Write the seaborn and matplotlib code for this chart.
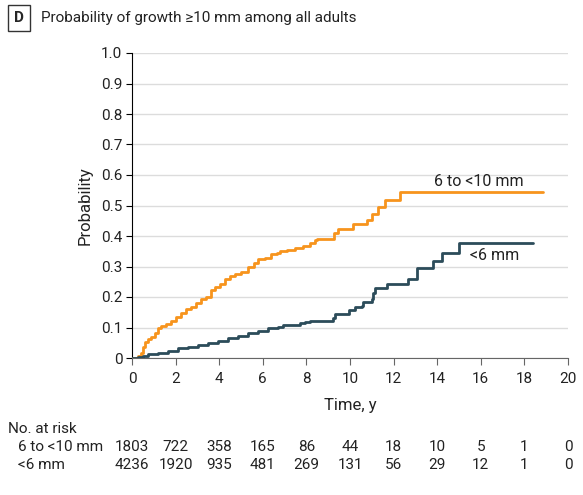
import numpy as np
import pandas as pd
import matplotlib
matplotlib.use("Agg")
import matplotlib.pyplot as plt
import matplotlib.transforms as mtransforms
import seaborn as sns

# step points (time in years, cumulative probability)
t_mid = [0, 0.28, 0.43, 0.5, 0.61, 0.73, 0.89, 1.04, 1.19, 1.35, 1.57, 1.8, 2.03, 2.26,
         2.49, 2.72, 2.95, 3.18, 3.41, 3.61, 3.79, 4.02, 4.25, 4.48, 4.71, 5.02, 5.32,
         5.6, 5.78, 6.09, 6.39, 6.64, 6.79, 7.1, 7.48, 7.86, 8.17, 8.39, 8.47, 9.28,
         9.46, 10.15, 10.76, 11.02, 11.3, 11.6, 12.29, 18.84]
p_mid = [0, 0.007, 0.017, 0.037, 0.053, 0.061, 0.068, 0.083, 0.097, 0.105, 0.11, 0.122,
         0.133, 0.146, 0.16, 0.168, 0.181, 0.193, 0.201, 0.223, 0.232, 0.242, 0.258,
         0.269, 0.275, 0.283, 0.297, 0.31, 0.324, 0.327, 0.341, 0.345, 0.351, 0.354,
         0.36, 0.367, 0.376, 0.387, 0.391, 0.409, 0.422, 0.438, 0.452, 0.472, 0.494,
         0.518, 0.545, 0.545]

t_small = [0, 0.28, 0.5, 0.73, 1.19, 1.65, 2.11, 2.57, 3.03, 3.49, 3.94, 4.4, 4.86,
           5.32, 5.78, 6.24, 6.7, 6.93, 7.71, 7.94, 8.17, 9.23, 9.31, 9.95, 10.23, 10.54,
           10.61, 11.0, 11.04, 11.15, 11.68, 12.65, 13.06, 13.83, 14.2, 15.0, 18.38]
p_small = [0, 0.002, 0.007, 0.013, 0.017, 0.024, 0.032, 0.037, 0.043, 0.05, 0.057,
           0.065, 0.072, 0.081, 0.09, 0.097, 0.103, 0.108, 0.114, 0.118, 0.122, 0.13,
           0.143, 0.157, 0.166, 0.17, 0.184, 0.192, 0.212, 0.228, 0.242, 0.258, 0.294,
           0.318, 0.343, 0.378, 0.378]

risk_times = [0, 2, 4, 6, 8, 10, 12, 14, 16, 18, 20]
risk_mid = [1803, 722, 358, 165, 86, 44, 18, 10, 5, 1, 0]
risk_small = [4236, 1920, 935, 481, 269, 131, 56, 29, 12, 1, 0]

orange = "#F7941D"
navy = "#2C4C5A"
txt = "#222222"

sns.set_style("white")
plt.rcParams["font.family"] = ["Roboto", "DejaVu Sans"]

df = pd.concat([
    pd.DataFrame({"t": t_mid, "p": p_mid, "grp": "6 to <10 mm"}),
    pd.DataFrame({"t": t_small, "p": p_small, "grp": "<6 mm"}),
])

fig = plt.figure(figsize=(5.83, 4.95), dpi=100)
ax = fig.add_axes([132 / 583, 137 / 495, 436 / 583, 305 / 495])

sns.lineplot(data=df, x="t", y="p", hue="grp", palette={"6 to <10 mm": orange, "<6 mm": navy},
             drawstyle="steps-post", linewidth=2, legend=False, ax=ax, estimator=None,
             sort=False, zorder=3)

ax.set_xlim(0, 20)
ax.set_ylim(0, 1.0)
ax.set_xticks(range(0, 21, 2))
ax.set_yticks(np.arange(0, 1.01, 0.1))
ax.set_yticklabels(["0"] + [f"{v:.1f}" for v in np.arange(0.1, 1.01, 0.1)])
ax.yaxis.grid(True, color="#dcdcdc", linewidth=1)
ax.set_axisbelow(True)
for s in ["top", "right"]:
    ax.spines[s].set_visible(False)
ax.spines["left"].set_color("black")
ax.spines["bottom"].set_color("#666666")
ax.tick_params(axis="y", left=True, length=4, color="black", labelsize=11, pad=3, labelcolor=txt)
ax.tick_params(axis="x", bottom=True, length=5, color="#666666", labelsize=11, pad=5, labelcolor=txt)
ax.set_xlabel("Time, y", fontsize=12, color=txt, labelpad=9)
ax.set_ylabel("Probability", fontsize=12, color=txt, labelpad=6)

ax.text(15.9, 0.58, "6 to <10 mm", fontsize=11.5, color=txt, ha="center", va="center")
ax.text(16.65, 0.337, "<6 mm", fontsize=11.5, color=txt, ha="center", va="center")

# title with boxed panel letter
fig.text(19 / 583, 1 - 18 / 495, "D", fontsize=11, fontweight="bold", ha="center", va="center",
         bbox=dict(boxstyle="square,pad=0.4", fc="white", ec="#333333", lw=1))
fig.text(41 / 583, 1 - 18 / 495, "Probability of growth ≥10 mm among all adults",
         fontsize=11, ha="left", va="center", color=txt)

# number at risk table
tr = mtransforms.blended_transform_factory(ax.transData, fig.transFigure)
fig.text(8 / 583, 1 - 429 / 495, "No. at risk", fontsize=11, va="center", color=txt)
fig.text(18 / 583, 1 - 447 / 495, "6 to <10 mm", fontsize=11, va="center", color=txt)
fig.text(18 / 583, 1 - 465 / 495, "<6 mm", fontsize=11, va="center", color=txt)
for x, a, b in zip(risk_times, risk_mid, risk_small):
    ax.text(x, 1 - 447 / 495, str(a), transform=tr, fontsize=11, ha="center", va="center",
            color=txt, clip_on=False)
    ax.text(x, 1 - 465 / 495, str(b), transform=tr, fontsize=11, ha="center", va="center",
            color=txt, clip_on=False)

fig.savefig("out.png", dpi=100)
